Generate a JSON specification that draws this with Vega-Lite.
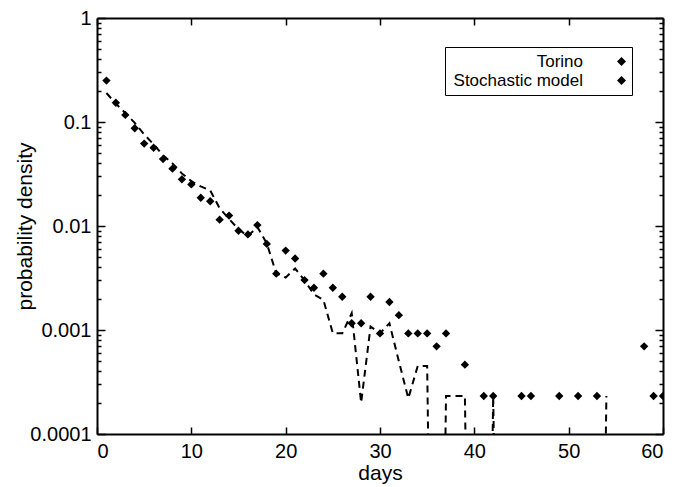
{
  "$schema": "https://vega.github.io/schema/vega-lite/v6.json",
  "autosize": "none",
  "width": 566,
  "height": 416,
  "padding": {"left": 97, "top": 18, "right": 12, "bottom": 53},
  "background": "white",
  "config": {
    "view": {"stroke": null},
    "font": "Liberation Sans",
    "axis": {
      "domainColor": "black",
      "domainWidth": 2,
      "tickColor": "black",
      "tickWidth": 1.5,
      "grid": false,
      "labelColor": "black",
      "titleColor": "black",
      "labelFont": "Liberation Sans",
      "titleFont": "Liberation Sans",
      "labelFontSize": 20,
      "titleFontSize": 21,
      "titleFontWeight": "normal"
    },
    "legend": {"labelFont": "Liberation Sans"}
  },
  "data": {
    "values": [
      {"day": 1, "value": 0.25, "series": "Torino"},
      {"day": 2, "value": 0.153, "series": "Torino"},
      {"day": 3, "value": 0.117, "series": "Torino"},
      {"day": 4, "value": 0.087, "series": "Torino"},
      {"day": 5, "value": 0.062, "series": "Torino"},
      {"day": 6, "value": 0.0566, "series": "Torino"},
      {"day": 7, "value": 0.044, "series": "Torino"},
      {"day": 8, "value": 0.0356, "series": "Torino"},
      {"day": 9, "value": 0.0281, "series": "Torino"},
      {"day": 10, "value": 0.0251, "series": "Torino"},
      {"day": 11, "value": 0.0187, "series": "Torino"},
      {"day": 12, "value": 0.0173, "series": "Torino"},
      {"day": 13, "value": 0.0115, "series": "Torino"},
      {"day": 14, "value": 0.0126, "series": "Torino"},
      {"day": 15, "value": 0.009, "series": "Torino"},
      {"day": 16, "value": 0.0083, "series": "Torino"},
      {"day": 17, "value": 0.0102, "series": "Torino"},
      {"day": 18, "value": 0.00673, "series": "Torino"},
      {"day": 19, "value": 0.00348, "series": "Torino"},
      {"day": 20, "value": 0.0058, "series": "Torino"},
      {"day": 21, "value": 0.00487, "series": "Torino"},
      {"day": 22, "value": 0.00302, "series": "Torino"},
      {"day": 23, "value": 0.00255, "series": "Torino"},
      {"day": 24, "value": 0.00348, "series": "Torino"},
      {"day": 25, "value": 0.00255, "series": "Torino"},
      {"day": 26, "value": 0.00209, "series": "Torino"},
      {"day": 27, "value": 0.00116, "series": "Torino"},
      {"day": 28, "value": 0.00116, "series": "Torino"},
      {"day": 29, "value": 0.00209, "series": "Torino"},
      {"day": 30, "value": 0.000928, "series": "Torino"},
      {"day": 31, "value": 0.00186, "series": "Torino"},
      {"day": 32, "value": 0.00139, "series": "Torino"},
      {"day": 33, "value": 0.000928, "series": "Torino"},
      {"day": 34, "value": 0.000928, "series": "Torino"},
      {"day": 35, "value": 0.000928, "series": "Torino"},
      {"day": 36, "value": 0.000696, "series": "Torino"},
      {"day": 37, "value": 0.000928, "series": "Torino"},
      {"day": 39, "value": 0.000464, "series": "Torino"},
      {"day": 41, "value": 0.000232, "series": "Torino"},
      {"day": 42, "value": 0.000232, "series": "Torino"},
      {"day": 45, "value": 0.000232, "series": "Torino"},
      {"day": 46, "value": 0.000232, "series": "Torino"},
      {"day": 49, "value": 0.000232, "series": "Torino"},
      {"day": 51, "value": 0.000232, "series": "Torino"},
      {"day": 53, "value": 0.000232, "series": "Torino"},
      {"day": 58, "value": 0.000696, "series": "Torino"},
      {"day": 59, "value": 0.000232, "series": "Torino"},
      {"day": 60, "value": 0.000232, "series": "Torino"},
      {"day": 1, "value": 0.19, "series": "Stochastic model"},
      {"day": 2, "value": 0.15, "series": "Stochastic model"},
      {"day": 3, "value": 0.122, "series": "Stochastic model"},
      {"day": 4, "value": 0.098, "series": "Stochastic model"},
      {"day": 5, "value": 0.076, "series": "Stochastic model"},
      {"day": 6, "value": 0.061, "series": "Stochastic model"},
      {"day": 7, "value": 0.048, "series": "Stochastic model"},
      {"day": 8, "value": 0.04, "series": "Stochastic model"},
      {"day": 9, "value": 0.032, "series": "Stochastic model"},
      {"day": 10, "value": 0.027, "series": "Stochastic model"},
      {"day": 11, "value": 0.024, "series": "Stochastic model"},
      {"day": 12, "value": 0.022, "series": "Stochastic model"},
      {"day": 13, "value": 0.0148, "series": "Stochastic model"},
      {"day": 14, "value": 0.0117, "series": "Stochastic model"},
      {"day": 15, "value": 0.0093, "series": "Stochastic model"},
      {"day": 16, "value": 0.008, "series": "Stochastic model"},
      {"day": 17, "value": 0.0098, "series": "Stochastic model"},
      {"day": 18, "value": 0.0068, "series": "Stochastic model"},
      {"day": 19, "value": 0.0035, "series": "Stochastic model"},
      {"day": 20, "value": 0.0032, "series": "Stochastic model"},
      {"day": 21, "value": 0.0039, "series": "Stochastic model"},
      {"day": 22, "value": 0.003, "series": "Stochastic model"},
      {"day": 23, "value": 0.0022, "series": "Stochastic model"},
      {"day": 24, "value": 0.00195, "series": "Stochastic model"},
      {"day": 25, "value": 0.00093, "series": "Stochastic model"},
      {"day": 26, "value": 0.00093, "series": "Stochastic model"},
      {"day": 27, "value": 0.00145, "series": "Stochastic model"},
      {"day": 28, "value": 0.0002, "series": "Stochastic model"},
      {"day": 29, "value": 0.00108, "series": "Stochastic model"},
      {"day": 30, "value": 0.00093, "series": "Stochastic model"},
      {"day": 31, "value": 0.00116, "series": "Stochastic model"},
      {"day": 32, "value": 0.0005, "series": "Stochastic model"},
      {"day": 33, "value": 0.00022, "series": "Stochastic model"},
      {"day": 34, "value": 0.00045, "series": "Stochastic model"},
      {"day": 35, "value": 0.00045, "series": "Stochastic model"},
      {"day": 36, "value": 1e-10, "series": "Stochastic model"},
      {"day": 37, "value": 0.000232, "series": "Stochastic model"},
      {"day": 38, "value": 0.000232, "series": "Stochastic model"},
      {"day": 39, "value": 0.000232, "series": "Stochastic model"},
      {"day": 40, "value": 1e-10, "series": "Stochastic model"},
      {"day": 41, "value": 1e-10, "series": "Stochastic model"},
      {"day": 42, "value": 0.000232, "series": "Stochastic model"},
      {"day": 43, "value": 1e-10, "series": "Stochastic model"},
      {"day": 44, "value": 1e-10, "series": "Stochastic model"},
      {"day": 45, "value": 1e-10, "series": "Stochastic model"},
      {"day": 46, "value": 1e-10, "series": "Stochastic model"},
      {"day": 47, "value": 1e-10, "series": "Stochastic model"},
      {"day": 48, "value": 1e-10, "series": "Stochastic model"},
      {"day": 49, "value": 1e-10, "series": "Stochastic model"},
      {"day": 50, "value": 1e-10, "series": "Stochastic model"},
      {"day": 51, "value": 1e-10, "series": "Stochastic model"},
      {"day": 52, "value": 1e-10, "series": "Stochastic model"},
      {"day": 53, "value": 1e-10, "series": "Stochastic model"},
      {"day": 54, "value": 0.000232, "series": "Stochastic model"}
    ]
  },
  "resolve": {"axis": {"x": "independent", "y": "independent"}},
  "layer": [
    {
      "transform": [{"filter": "datum.series === 'Torino'"}],
      "mark": {"type": "point", "shape": "diamond", "filled": true, "size": 70, "opacity": 1, "clip": true},
      "encoding": {
        "x": {
          "field": "day", "type": "quantitative",
          "scale": {"domain": [0, 60], "nice": false, "zero": false},
          "axis": {"orient": "bottom", "values": [0, 10, 20, 30, 40, 50, 60], "tickSize": -7, "labelPadding": 14, "title": "days", "titlePadding": 1}
        },
        "y": {
          "field": "value", "type": "quantitative",
          "scale": {"type": "log", "domain": [0.0001, 1], "nice": false},
          "axis": {
            "orient": "left",
            "title": "probability density",
            "titlePadding": -6,
            "values": [0.0001, 0.0002, 0.0003, 0.0004, 0.0005, 0.0006, 0.0007, 0.0008, 0.0009, 0.001, 0.002, 0.003, 0.004, 0.005, 0.006, 0.007, 0.008, 0.009, 0.01, 0.02, 0.03, 0.04, 0.05, 0.06, 0.07, 0.08, 0.09, 0.1, 0.2, 0.3, 0.4, 0.5, 0.6, 0.7, 0.8, 0.9, 1],
            "format": ".4~f",
            "labelExpr": "abs(log(datum.value)/LN10 - round(log(datum.value)/LN10)) < 0.001 ? datum.label : ''",
            "tickSize": {"condition": {"test": "abs(log(datum.value)/LN10 - round(log(datum.value)/LN10)) < 0.001", "value": -8}, "value": -4},
            "labelPadding": 14
          }
        },
        "color": {
          "field": "series", "type": "nominal",
          "scale": {"domain": ["Torino", "Stochastic model"], "range": ["black", "black"]},
          "legend": {
            "title": null,
            "orient": "none",
            "legendX": 348,
            "legendY": 29,
            "strokeColor": "black",
            "padding": 6,
            "symbolSize": 81,
            "symbolStrokeWidth": 2,
            "symbolOffset": 162,
            "labelFontSize": 17,
            "labelAlign": "right",
            "labelOffset": -47,
            "rowPadding": 1,
            "encode": {
              "legend": {"strokeWidth": {"value": 1.5}},
              "symbols": {
                "shape": {"value": {"expr": "datum.value === 'Torino' ? 'diamond' : 'M-4.5,0L4.5,0'"}},
                "fill": {"value": "black"},
                "stroke": {"value": "black"},
                "strokeWidth": {"value": {"expr": "datum.value === 'Torino' ? 0 : 2"}},
                "strokeDash": {"value": [7, 5]},
                "opacity": {"value": 1}
              }
            }
          }
        }
      }
    },
    {
      "transform": [{"filter": "datum.series === 'Stochastic model'"}],
      "mark": {"type": "line", "strokeDash": [7, 5], "strokeWidth": 2, "color": "black", "clip": true},
      "encoding": {
        "x": {
          "field": "day", "type": "quantitative",
          "axis": {"orient": "top", "values": [0, 10, 20, 30, 40, 50, 60], "tickSize": -7, "labels": false, "title": null}
        },
        "y": {
          "field": "value", "type": "quantitative",
          "axis": {
            "orient": "right",
            "title": null,
            "labels": false,
            "values": [0.0001, 0.0002, 0.0003, 0.0004, 0.0005, 0.0006, 0.0007, 0.0008, 0.0009, 0.001, 0.002, 0.003, 0.004, 0.005, 0.006, 0.007, 0.008, 0.009, 0.01, 0.02, 0.03, 0.04, 0.05, 0.06, 0.07, 0.08, 0.09, 0.1, 0.2, 0.3, 0.4, 0.5, 0.6, 0.7, 0.8, 0.9, 1],
            "tickSize": {"condition": {"test": "abs(log(datum.value)/LN10 - round(log(datum.value)/LN10)) < 0.001", "value": -8}, "value": -4}
          }
        }
      }
    }
  ]
}
